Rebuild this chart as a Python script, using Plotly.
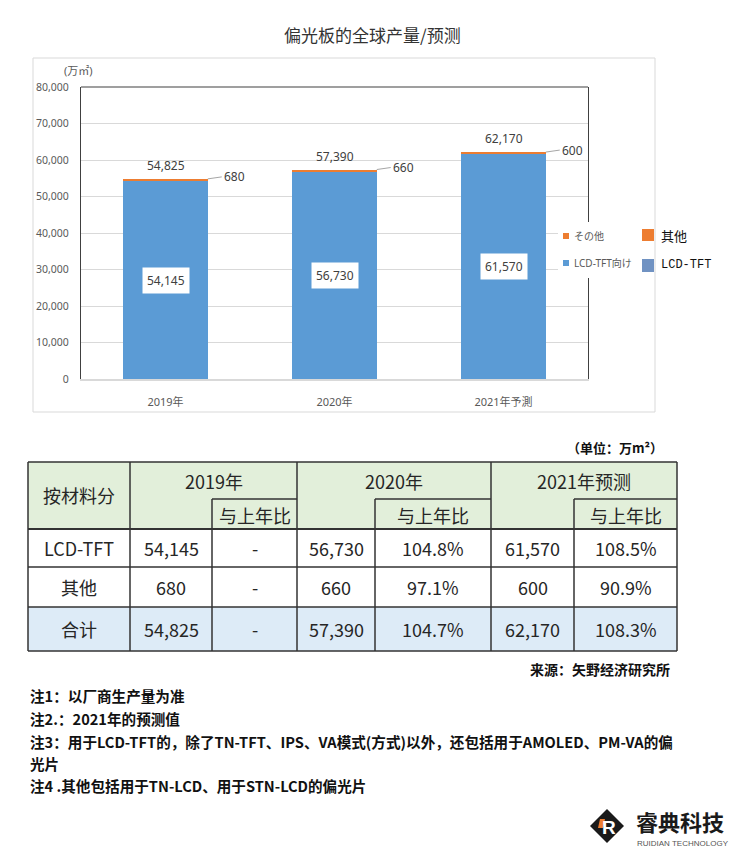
import plotly.graph_objects as go

# ---------------- data ----------------
categories = ["2019年", "2020年", "2021年予測"]
lcd_tft = [54145, 56730, 61570]
others = [680, 660, 600]
totals = [54825, 57390, 62170]

table_years = ["2019年", "2020年", "2021年预测"]
row_names = ["LCD-TFT", "其他", "合计"]
lcd_ratio = ["-", "104.8%", "108.5%"]
other_ratio = ["-", "97.1%", "90.9%"]
total_ratio = ["-", "104.7%", "108.3%"]

notes = [
    "注1：以厂商生产量为准",
    "注2.：2021年的预测值",
    "注3：用于LCD-TFT的，除了TN-TFT、IPS、VA模式(方式)以外，还包括用于AMOLED、PM-VA的偏",
    "光片",
    "注4 .其他包括用于TN-LCD、用于STN-LCD的偏光片",
]

# ---------------- style ----------------
W, H = 737, 850
BLUE = "#5B9BD5"
ORANGE = "#ED7D31"
BLUE2 = "#7092C2"
GRID = "#D9D9D9"
FRAME = "#404040"
TICK = "#595959"
LABEL = "#404040"
CJK = "Noto Sans CJK SC"
SANS = "Noto Sans, Noto Sans CJK SC"


def px(x):
    return x / W


def py(y):
    return 1 - y / H


shapes = []
annotations = []


def text(x, y, s, size=14, color="#222222", xanchor="center", family=CJK, bold=False):
    annotations.append(dict(
        x=px(x), y=py(y), xref="paper", yref="paper", text=f"<b>{s}</b>" if bold else s,
        showarrow=False, xanchor=xanchor, yanchor="middle",
        font=dict(size=size, color=color, family=family)))


def rect(x0, y0, x1, y1, fill, line=None, lw=0, layer="below"):
    shapes.append(dict(type="rect", xref="paper", yref="paper",
                       x0=px(x0), x1=px(x1), y0=py(y1), y1=py(y0),
                       fillcolor=fill, line=dict(color=line or fill, width=lw), layer=layer))


def line(x0, y0, x1, y1, color="#333333", width=1.5, layer="above"):
    shapes.append(dict(type="line", xref="paper", yref="paper",
                       x0=px(x0), x1=px(x1), y0=py(y0), y1=py(y1),
                       line=dict(color=color, width=width), layer=layer))


# ---------------- chart ----------------
fig = go.Figure()
fig.add_bar(x=categories, y=lcd_tft, name="LCD-TFT向け", marker=dict(color=BLUE, line=dict(width=0)), width=0.5)
fig.add_bar(x=categories, y=others, name="その他", marker=dict(color=ORANGE, line=dict(width=0)), width=0.5)

# title
text(372, 35, "偏光板的全球产量/预测", size=17, color="#333333")
# outer chart border
rect(33, 58, 655, 412, "rgba(0,0,0,0)", line="#D9D9D9", lw=1)
# unit label
text(78, 70, "(万㎡)", size=11, color=TICK, family=SANS)
# top frame line
line(81, 87, 588, 87, color=FRAME, width=1.2)

for i, c in enumerate(categories):
    annotations.append(dict(x=c, y=lcd_tft[i] / 2, xref="x", yref="y", text=f"{lcd_tft[i]:,}",
                            showarrow=False, bgcolor="white", borderpad=4,
                            font=dict(size=12, color=LABEL, family=SANS)))
    annotations.append(dict(x=c, y=totals[i], xref="x", yref="y", text=f"{totals[i]:,}",
                            showarrow=False, yanchor="bottom", yshift=3,
                            font=dict(size=12, color=LABEL, family=SANS)))
    annotations.append(dict(x=i + 0.25, y=totals[i], xref="x", yref="y", text=f"{others[i]:,}",
                            showarrow=True, arrowhead=0, arrowwidth=1, arrowcolor="#A6A6A6",
                            ax=14, ay=-2, xanchor="left", standoff=0,
                            font=dict(size=12, color=LABEL, family=SANS)))

# legend box (covers part of the right spine)
rect(558, 222, 640, 278, "white", layer="above")
rect(563, 233, 569, 239, ORANGE, layer="above")
rect(563, 260, 569, 266, BLUE, layer="above")
text(572, 236, "その他", size=10, color=TICK, xanchor="left", family=SANS)
text(572, 263, "LCD-TFT向け", size=10, color=TICK, xanchor="left", family=SANS)
rect(642, 229, 654, 241, ORANGE, layer="above")
rect(642, 259, 654, 272, BLUE2, layer="above")
text(659, 235, "其他", size=13, color="#111111", xanchor="left", family=CJK)
text(659, 265, "LCD-TFT", size=12, color="#111111", xanchor="left", family="Liberation Mono")

# ---------------- table ----------------
cx = [28, 130, 212, 297, 375, 491, 574, 677]
ry = [462, 499, 529, 567, 607, 651]

rect(cx[0], ry[0], cx[-1], ry[2], "#E2EFDA")
rect(cx[0], ry[2], cx[-1], ry[4], "white")
rect(cx[0], ry[4], cx[-1], ry[5], "#DDEBF7")

TL = "#333333"
for x in [cx[0], cx[1], cx[3], cx[5], cx[7]]:
    line(x, ry[0], x, ry[5], TL)
for x in [cx[2], cx[4], cx[6]]:
    line(x, ry[1], x, ry[5], TL)
for y in [ry[0], ry[2], ry[3], ry[4], ry[5]]:
    line(cx[0], y, cx[-1], y, TL, width=1.5 if y != ry[2] else 2)
for a, b in [(cx[2], cx[3]), (cx[4], cx[5]), (cx[6], cx[7])]:
    line(a, ry[1], b, ry[1], TL)

TS = 18
TC = "#262626"
text((cx[0] + cx[1]) / 2, (ry[0] + ry[2]) / 2, "按材料分", size=TS, color=TC)
for k in range(3):
    a, m, b = cx[1 + 2 * k], cx[2 + 2 * k], cx[3 + 2 * k]
    text((a + b) / 2, (ry[0] + ry[1]) / 2, table_years[k], size=TS, color=TC)
    text((m + b) / 2, (ry[1] + ry[2]) / 2 + 1, "与上年比", size=TS, color=TC)

rows_vals = [
    ([f"{v:,}" for v in lcd_tft], lcd_ratio),
    ([f"{v:,}" for v in others], other_ratio),
    ([f"{v:,}" for v in totals], total_ratio),
]
for r, (vals, ratios) in enumerate(rows_vals):
    yc = (ry[2 + r] + ry[3 + r]) / 2
    text((cx[0] + cx[1]) / 2, yc, row_names[r], size=TS, color=TC)
    for k in range(3):
        a, m, b = cx[1 + 2 * k], cx[2 + 2 * k], cx[3 + 2 * k]
        text((a + m) / 2, yc, vals[k], size=TS, color=TC)
        text((m + b) / 2, yc, ratios[k], size=TS, color=TC)

text(665, 447, "（单位：万m²）", size=13, color="#111111", xanchor="right", bold=True)
text(672, 669, "来源：矢野经济研究所", size=14, color="#111111", xanchor="right", bold=True)

note_y = [695, 718, 741, 763, 785]
for s, y in zip(notes, note_y):
    text(28, y, s, size=14.6, color="#111111", xanchor="left", bold=True)

# ---------------- logo ----------------
shapes.append(dict(type="path", xref="paper", yref="paper",
                   path=f"M {px(590)},{py(826)} L {px(607)},{py(809)} L {px(624)},{py(826)} L {px(607)},{py(843)} Z",
                   fillcolor="#1A1A1A", line=dict(width=0), layer="above"))
text(609, 827, "R", size=19, color="white", family="Liberation Sans", bold=True)
shapes.append(dict(type="path", xref="paper", yref="paper",
                   path=f"M {px(600)},{py(819)} L {px(605)},{py(819)} L {px(603)},{py(828)} L {px(598)},{py(828)} Z",
                   fillcolor=ORANGE, line=dict(width=0), layer="above"))
text(634, 821, "睿典科技", size=22, color="#1A1A1A", xanchor="left", bold=True)
text(635, 843, "RUIDIAN TECHNOLOGY", size=8, color="#555555", xanchor="left", family="Liberation Sans")

fig.update_layout(
    width=W, height=H, margin=dict(l=0, r=0, t=0, b=0),
    paper_bgcolor="white", plot_bgcolor="white",
    barmode="stack", showlegend=False, bargap=0.5,
    shapes=shapes, annotations=annotations,
    xaxis=dict(domain=[px(81), px(588)], showgrid=False, ticks="", ticklabelstandoff=12,
               tickfont=dict(size=11, color=TICK, family=SANS), showline=True,
               linecolor=GRID, linewidth=1.5, automargin=False, fixedrange=True),
    yaxis=dict(domain=[py(379), py(87)], range=[0, 80000], dtick=10000, tickformat=",",
               gridcolor=GRID, gridwidth=1, zeroline=False, showline=True, mirror=True,
               linecolor=FRAME, linewidth=1.2, ticks="", ticklabelstandoff=9,
               tickfont=dict(size=10.5, color=TICK, family=SANS), automargin=False, fixedrange=True),
)

fig.write_html("out.html", config={"displayModeBar": False},
               post_script="document.body.style.margin='0px';document.body.style.overflow='hidden';")
